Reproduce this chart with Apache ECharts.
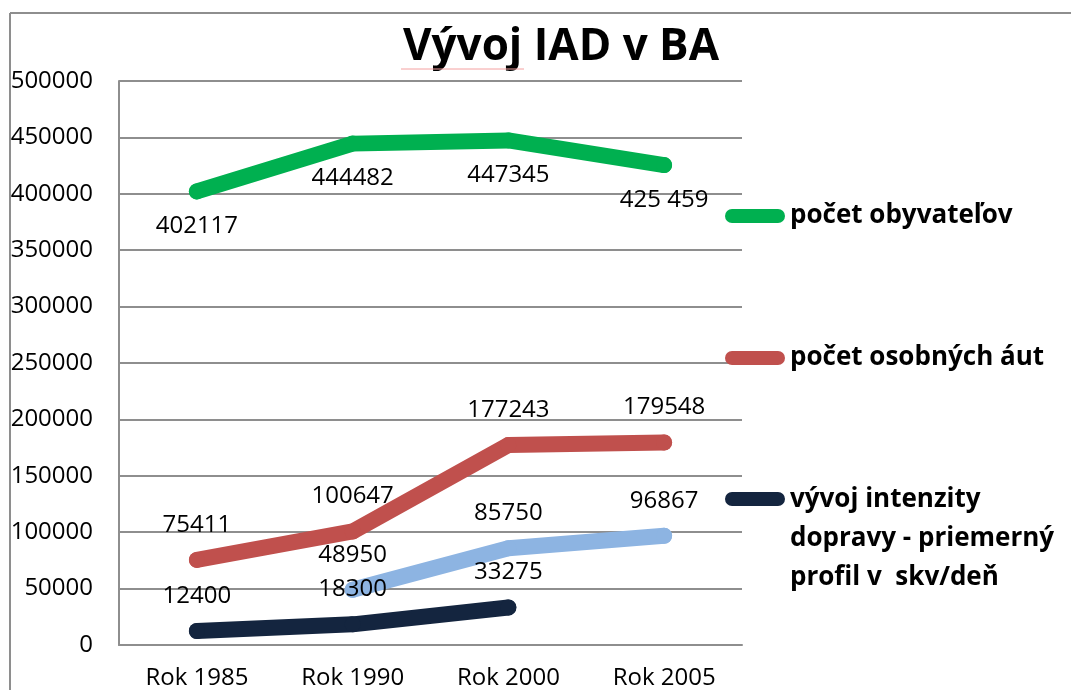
<!DOCTYPE html>
<html>
<head>
<meta charset="utf-8">
<script src="https://cdn.jsdelivr.net/npm/echarts@6/dist/echarts.min.js"></script>
<style>
  html, body { margin: 0; padding: 0; background: #fff; }
  #chart { width: 1071px; height: 690px; }
</style>
</head>
<body>
<div id="chart"></div>
<script>
const categories = ['Rok 1985', 'Rok 1990', 'Rok 2000', 'Rok 2005'];
const obyvatelia = [402117, 444482, 447345, 425459];
const obyvateliaLabels = ['402117', '444482', '447345', '425 459'];
const auta = [75411, 100647, 177243, 179548];
const intenzitaProfil2 = [null, 48950, 85750, 96867];
const intenzita = [12400, 18300, 33275, null];
const yMin = 0, yMax = 500000, yStep = 50000;

const nameObyv = 'počet obyvateľov';
const nameAuta = 'počet osobných áut';
const nameInt = 'vývoj intenzity dopravy - priemerný profil v  skv/deň';
const nameInt2 = 'intenzita dopravy';

const FONT = '"Open Sans", "Liberation Sans", sans-serif';
const GRID_COLOR = '#8e8e8e';
const capsule = 'path://M7,0H53A7,7,0,0,1,53,14H7A7,7,0,0,1,7,0Z';
// same capsule, aligned with the first of three text lines (invisible point sets the box height)
const capsuleTop = 'path://M7,0H53A7,7,0,0,1,53,14H7A7,7,0,0,1,7,0Z M0,94L0.01,94L0,94Z';

const chart = echarts.init(document.getElementById('chart'), null, { renderer: 'canvas' });

function lineSeries(name, data, color, below, labels) {
  return {
    type: 'line',
    name: name,
    data: data,
    symbol: 'circle',
    symbolSize: 16,
    connectNulls: false,
    itemStyle: { color: color },
    lineStyle: { color: color, width: 16, cap: 'round', join: 'round' },
    emphasis: { disabled: true },
    label: {
      show: true,
      position: 'inside',
      offset: [0, below ? 35 : -35],
      fontFamily: FONT,
      fontSize: 24,
      color: '#000',
      formatter: function (p) {
        return labels ? labels[p.dataIndex] : String(p.value);
      }
    }
  };
}

const legendCommon = {
  orient: 'horizontal',
  left: 725,
  padding: 0,
  itemWidth: 60,
  itemHeight: 14,
  icon: capsule,
  selectedMode: false,
  itemStyle: { borderWidth: 0 },
  textStyle: { fontFamily: FONT, fontWeight: 'bold', fontSize: 26, color: '#000', lineHeight: 32 }
};

const option = {
  animation: false,
  backgroundColor: '#fff',
  grid: { left: 119, right: 329, top: 81, bottom: 43 },
  xAxis: {
    type: 'category',
    data: categories,
    boundaryGap: true,
    axisLine: { show: true, lineStyle: { color: GRID_COLOR, width: 2 } },
    axisTick: { show: false },
    axisLabel: { fontFamily: FONT, fontSize: 24, color: '#000', margin: 21 }
  },
  yAxis: {
    type: 'value',
    min: yMin,
    max: yMax,
    interval: yStep,
    axisLine: { show: true, lineStyle: { color: GRID_COLOR, width: 2 } },
    axisTick: { show: false },
    splitLine: { show: true, lineStyle: { color: GRID_COLOR, width: 2 } },
    axisLabel: {
      fontFamily: FONT, fontSize: 24, color: '#000', margin: 26,
      formatter: function (v) { return String(v); }
    }
  },
  legend: [
    Object.assign({}, legendCommon, { data: [nameObyv], top: 216 - 16 }),
    Object.assign({}, legendCommon, { data: [nameAuta], top: 358 - 16 }),
    Object.assign({}, legendCommon, {
      data: [nameInt],
      top: 500 - 19.5,
      itemHeight: 94,
      icon: capsuleTop,
      formatter: function (n) {
        return n.replace(' dopravy', '\ndopravy').replace(' profil', '\nprofil');
      },
      textStyle: { fontFamily: FONT, fontWeight: 'bold', fontSize: 26, color: '#000', lineHeight: 39 }
    })
  ],
  graphic: [
    { type: 'line', z: -1, shape: { x1: 10, y1: 13, x2: 1071, y2: 13 }, style: { stroke: GRID_COLOR, lineWidth: 2 } },
    { type: 'line', z: -1, shape: { x1: 10, y1: 13, x2: 10, y2: 690 }, style: { stroke: GRID_COLOR, lineWidth: 2 } },
    {
      type: 'text', x: 561, y: 47,
      style: { text: 'Vývoj IAD v BA', font: 'bold 44px ' + FONT, fill: '#000', textAlign: 'center', textVerticalAlign: 'middle' }
    },
    { type: 'line', shape: { x1: 401, y1: 69, x2: 524, y2: 69 }, style: { stroke: '#f4a0a0', lineWidth: 1 } }
  ],
  series: [
    lineSeries(nameObyv, obyvatelia, '#00B050', true, obyvateliaLabels),
    lineSeries(nameAuta, auta, '#C0504D', false, null),
    lineSeries(nameInt2, intenzitaProfil2, '#8DB4E2', false, null),
    lineSeries(nameInt, intenzita, '#14253F', false, null)
  ]
};

chart.setOption(option);
</script>
</body>
</html>
